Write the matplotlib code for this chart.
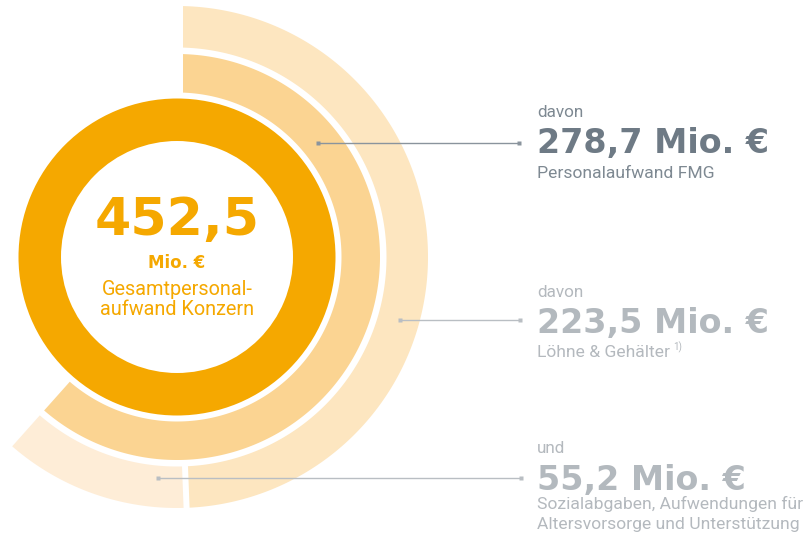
"""
Personalaufwand im Konzern: nested ring chart with callout labels.
"""

import numpy as np
import matplotlib.pyplot as plt
from matplotlib.patches import Polygon, Wedge

# values in Mio. EUR
total = 452.5
fmg = 278.7
wages = 223.5
social = 55.2

big_labels = ["278,7 Mio. €", "223,5 Mio. €", "55,2 Mio. €"]
pre_labels = ["davon", "davon", "und"]
sub_labels = ["Personalaufwand FMG", "Löhne & Gehälter",
              "Sozialabgaben, Aufwendungen für", "Altersvorsorge und Unterstützung"]

ORANGE = '#F5A800'
MID = '#FBD492'
OUTER1 = '#FDE6C0'
OUTER2 = '#FEEDD7'
DARK = '#6E7A85'
DARK_SMALL = '#7E8992'
LIGHT = '#B3B9BE'
LIGHT_SMALL = '#B4B9BE'

# ring geometry (pixels)
cx, cy = 177, 257
inner = (116, 158.5)
middle = (164.5, 203)
outer = (209.5, 251)


def ring_segment(ax, v0, v1, radii, color, pad0=6.0, pad1=3.0):
    """Annulus segment from value v0 to v1, clockwise from 12 o'clock,
    with straight edges pulled in by a fixed pixel distance."""
    r_in, r_out = radii
    a0 = v0 / total * 2 * np.pi
    a1 = v1 / total * 2 * np.pi
    t_out = np.linspace(a0 + np.arcsin(pad0 / r_out), a1 - np.arcsin(pad1 / r_out), 300)
    t_in = np.linspace(a1 - np.arcsin(pad1 / r_in), a0 + np.arcsin(pad0 / r_in), 300)
    xs = np.r_[cx + r_out * np.sin(t_out), cx + r_in * np.sin(t_in)]
    ys = np.r_[cy - r_out * np.cos(t_out), cy - r_in * np.cos(t_in)]
    ax.add_patch(Polygon(np.c_[xs, ys], closed=True, fc=color, ec='none'))


fig = plt.figure(figsize=(8.07, 5.40), dpi=100)
ax = fig.add_axes([0, 0, 1, 1])
ax.set_xlim(0, 807)
ax.set_ylim(540, 0)
ax.axis('off')

# rings
ax.add_patch(Wedge((cx, cy), inner[1], 0, 360, width=inner[1] - inner[0], fc=ORANGE, ec='none'))
ring_segment(ax, 0, fmg, middle, MID)
ring_segment(ax, 0, wages, outer, OUTER1)
ring_segment(ax, wages, wages + social, outer, OUTER2, pad0=3.0, pad1=3.0)

# centre text
ax.text(cx, 235, "452,5", ha='center', va='baseline', fontsize=37.5,
        fontweight='bold', family='DejaVu Sans', color=ORANGE)
ax.text(cx, 268, "Mio. €", ha='center', va='baseline', fontsize=12,
        fontweight='bold', family='DejaVu Sans', color=ORANGE)
ax.text(cx, 295, "Gesamtpersonal-", ha='center', va='baseline', fontsize=14.3,
        family='Roboto', color=ORANGE)
ax.text(cx, 315, "aufwand Konzern", ha='center', va='baseline', fontsize=14.3,
        family='Roboto', color=ORANGE)

# callout lines
callouts = [((318, 143), 519, '#8A949D'), ((400, 320), 520, '#B9BEC3'), ((158, 478), 521, '#B9BEC3')]
for (x0, y0), x1, col in callouts:
    ax.plot([x0, x1], [y0, y0], color=col, lw=1.0, solid_capstyle='butt')
    ax.plot([x0, x1], [y0, y0], 's', color=col, ms=2.5, mec='none')

# right-hand labels
tx = 537
rows = [(117, 153.3, [178.3], DARK, DARK_SMALL),
        (297, 333, [357], LIGHT, LIGHT_SMALL),
        (453.3, 490, [509.5, 529.5], LIGHT, LIGHT_SMALL)]
subs = [sub_labels[:1], sub_labels[1:2], sub_labels[2:]]
sub_texts = []
for (y_pre, y_big, y_subs, cbig, csmall), pre, big, lines in zip(rows, pre_labels, big_labels, subs):
    ax.text(tx, y_pre, pre, ha='left', va='baseline', fontsize=12.3,
            family='Roboto', color=csmall)
    ax.text(tx, y_big, big, ha='left', va='baseline', fontsize=24,
            fontweight='bold', family='DejaVu Sans', color=cbig)
    for y_sub, line in zip(y_subs, lines):
        t = ax.text(tx, y_sub, line, ha='left', va='baseline',
                    fontsize=12.6, family='Roboto', color=csmall)
        sub_texts.append(t)

# footnote marker after "Löhne & Gehälter"
renderer = fig.canvas.get_renderer()
bb = sub_texts[1].get_window_extent(renderer=renderer)
x_end = ax.transData.inverted().transform((bb.x1, bb.y0))[0]
ax.text(x_end + 3, 350, "1)", ha='left', va='baseline', fontsize=7,
        family='Roboto', color=LIGHT_SMALL)

fig.savefig('out.png', dpi=100)
plt.close(fig)
